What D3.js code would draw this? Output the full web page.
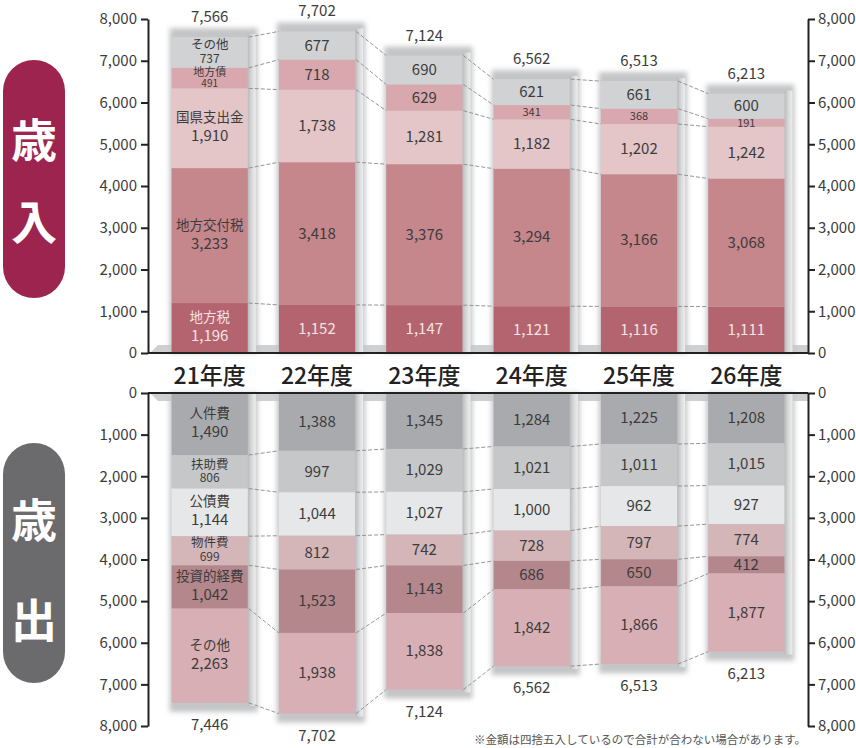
<!DOCTYPE html>
<html>
<head>
<meta charset="utf-8">
<script src="https://cdn.jsdelivr.net/npm/d3@7"></script>
<style>
  body { margin: 0; background: #fff; }
  svg { display: block; font-family: "Noto Sans CJK JP", "Noto Sans", sans-serif; }
</style>
</head>
<body>
<div id="chart"></div>
<script>
// ---- data ----
var years = ["21年度", "22年度", "23年度", "24年度", "25年度", "26年度"];

var revNames = ["地方税", "地方交付税", "国県支出金", "地方債", "その他"];
var revColors = ["#b3646f", "#c5868c", "#e4c6c9", "#d9a8ae", "#d1d2d4"];
var revChihouzei  = [1196, 1152, 1147, 1121, 1116, 1111];
var revKoufuzei   = [3233, 3418, 3376, 3294, 3166, 3068];
var revShishutsu  = [1910, 1738, 1281, 1182, 1202, 1242];
var revChihousai  = [491, 718, 629, 341, 368, 191];
var revSonota     = [737, 677, 690, 621, 661, 600];
var revTotals     = [7566, 7702, 7124, 6562, 6513, 6213];

var expNames = ["人件費", "扶助費", "公債費", "物件費", "投資的経費", "その他"];
var expColors = ["#a9aaad", "#c6c7c9", "#e6e7e8", "#d4b6b9", "#b4878c", "#d8afb4"];
var expJinken   = [1490, 1388, 1345, 1284, 1225, 1208];
var expFujo     = [806, 997, 1029, 1021, 1011, 1015];
var expKousai   = [1144, 1044, 1027, 1000, 962, 927];
var expBukken   = [699, 812, 742, 728, 797, 774];
var expToushi   = [1042, 1523, 1143, 686, 650, 412];
var expSonota   = [2263, 1938, 1838, 1842, 1866, 1877];
var expTotals   = [7446, 7702, 7124, 6562, 6513, 6213];

var axisTicks = [0, 1000, 2000, 3000, 4000, 5000, 6000, 7000, 8000];
var note = "※金額は四捨五入しているので合計が合わない場合があります。";

var revSeries = [revChihouzei, revKoufuzei, revShishutsu, revChihousai, revSonota];
var expSeries = [expJinken, expFujo, expKousai, expBukken, expToushi, expSonota];

// ---- layout ----
var width = 856, height = 748;
var axL = 148, axR = 808;

var svg = d3.select("#chart").append("svg")
    .attr("width", width)
    .attr("height", height);

var defs = svg.append("defs");
defs.append("filter").attr("id", "blur")
    .attr("x", "-30%").attr("y", "-30%").attr("width", "160%").attr("height", "160%")
  .append("feGaussianBlur").attr("stdDeviation", 2.6);

var side = defs.append("linearGradient").attr("id", "side")
    .attr("x1", "0").attr("x2", "1").attr("y1", "0").attr("y2", "0");
side.append("stop").attr("offset", "0").attr("stop-color", "#b9babc");
side.append("stop").attr("offset", "0.5").attr("stop-color", "#d8d9da");
side.append("stop").attr("offset", "1").attr("stop-color", "#eeeeee");

var x = d3.scaleBand()
    .domain(years)
    .range([156, 800])
    .paddingInner(0.29)
    .paddingOuter(0.145);

var yTop = d3.scaleLinear().domain([0, 8000]).range([353, 19]);
var yBot = d3.scaleLinear().domain([0, 8000]).range([393, 726]);

function stackOf(series) {
  return years.map(function(yr, i) {
    var acc = 0;
    return series.map(function(s, k) {
      var seg = {year: yr, i: i, k: k, v: s[i], y0: acc, y1: acc + s[i]};
      acc += s[i];
      return seg;
    });
  });
}

var revStack = stackOf(revSeries);
var expStack = stackOf(expSeries);

function fmt(v) { return d3.format(",")(v); }

// floor strips (3D base)
svg.append("polygon")
    .attr("points", [[axL + 2, 353], [axL + 10, 345], [axR, 345], [axR, 353]].join(" "))
    .attr("fill", "#cfd0d1");
svg.append("polygon")
    .attr("points", [[axL + 2, 393], [axL + 10, 401], [axR, 401], [axR, 393]].join(" "))
    .attr("fill", "#cfd0d1");

function drawPanel(stack, colors, y, totals, names, isTop) {
  var g = svg.append("g");
  var bw = x.bandwidth();

  // soft shadow behind each bar
  g.selectAll("rect.shadow")
    .data(years)
    .enter().append("rect")
      .attr("x", function(d) { return x(d) - 2; })
      .attr("width", bw + 12)
      .attr("y", function(d, i) { return isTop ? y(totals[i]) - 9 : y(0); })
      .attr("height", function(d, i) { return Math.abs(y(totals[i]) - y(0)) + 9; })
      .attr("fill", "#c4c5c7")
      .attr("filter", "url(#blur)");

  // side face
  g.selectAll("rect.side")
    .data(years)
    .enter().append("rect")
      .attr("x", function(d) { return x(d) + bw; })
      .attr("width", 8)
      .attr("y", function(d, i) { return isTop ? y(totals[i]) - 3 : y(0); })
      .attr("height", function(d, i) { return Math.abs(y(totals[i]) - y(0)) + 3; })
      .attr("fill", "url(#side)");

  // segments
  stack.forEach(function(segs) {
    g.selectAll(null)
      .data(segs)
      .enter().append("rect")
        .attr("x", function(d) { return x(d.year); })
        .attr("width", bw)
        .attr("y", function(d) { return Math.min(y(d.y0), y(d.y1)); })
        .attr("height", function(d) { return Math.abs(y(d.y1) - y(d.y0)); })
        .attr("fill", function(d) { return colors[d.k]; });
  });

  // dashed connectors
  for (var i = 0; i < years.length - 1; i++) {
    stack[i].forEach(function(seg, k) {
      var next = stack[i + 1][k];
      g.append("line")
        .attr("x1", x(years[i]) + bw + 1)
        .attr("x2", x(years[i + 1]))
        .attr("y1", y(seg.y1))
        .attr("y2", y(next.y1))
        .attr("stroke", "#8a8a8a")
        .attr("stroke-width", 0.9)
        .attr("stroke-dasharray", "4,2");
    });
  }

  // value labels
  stack.forEach(function(segs) {
    segs.forEach(function(d) {
      var cx = x(d.year) + bw / 2;
      var cy = (y(d.y0) + y(d.y1)) / 2;
      var small = isTop && d.v < 500;
      var col = (isTop && d.k === 0) ? "#f3e3e5" : "#3c3c3c";
      if (d.i === 0) {
        // first bar shows name + value
        var fs, fv, gap;
        if (small) { fs = 11; fv = 10; gap = 10; }
        else if (d.v < 900) { fs = 12.5; fv = 12; gap = 12.5; }
        else { fs = 13.5; fv = 15; gap = 18; }
        g.append("text")
          .attr("x", cx).attr("y", cy - gap / 2 + 3)
          .attr("text-anchor", "middle")
          .style("font-size", fs + "px")
          .attr("fill", col)
          .text(names[d.k]);
        g.append("text")
          .attr("x", cx).attr("y", cy + gap / 2 + 4)
          .attr("text-anchor", "middle")
          .style("font-size", fv + "px")
          .attr("fill", col)
          .text(fmt(d.v));
      } else {
        g.append("text")
          .attr("x", cx).attr("y", cy + (small ? 4 : 5))
          .attr("text-anchor", "middle")
          .style("font-size", (small ? 11 : 15) + "px")
          .attr("fill", col)
          .text(fmt(d.v));
      }
    });
  });

  // totals
  g.selectAll("text.total")
    .data(years)
    .enter().append("text")
      .attr("x", function(d) { return x(d) + bw / 2; })
      .attr("y", function(d, i) { return isTop ? y(totals[i]) - 15 : y(totals[i]) + 27; })
      .attr("text-anchor", "middle")
      .style("font-size", "15px")
      .attr("fill", "#3c3c3c")
      .text(function(d, i) { return fmt(totals[i]); });
}

drawPanel(revStack, revColors, yTop, revTotals, revNames, true);
drawPanel(expStack, expColors, yBot, expTotals, expNames, false);

// axes
function styleAxis(sel) {
  sel.select(".domain").attr("stroke", "#222").attr("stroke-width", 2);
  sel.selectAll(".tick line").attr("stroke", "#222").attr("stroke-width", 2);
  sel.selectAll(".tick text")
    .style("font-size", "15px")
    .style("font-family", "Noto Sans CJK JP, sans-serif")
    .attr("fill", "#3c3c3c");
}

[yTop, yBot].forEach(function(ys) {
  svg.append("g")
    .attr("transform", "translate(" + axL + ",0)")
    .call(d3.axisLeft(ys).tickValues(axisTicks).tickFormat(d3.format(",")).tickSize(7).tickSizeOuter(0).tickPadding(4))
    .call(styleAxis);
  svg.append("g")
    .attr("transform", "translate(" + axR + ",0)")
    .call(d3.axisRight(ys).tickValues(axisTicks).tickFormat(d3.format(",")).tickSize(7).tickSizeOuter(0).tickPadding(3))
    .call(styleAxis);
});

// base lines
svg.append("line").attr("x1", axL).attr("x2", axR).attr("y1", 353).attr("y2", 353)
    .attr("stroke", "#222").attr("stroke-width", 2);
svg.append("line").attr("x1", axL).attr("x2", axR).attr("y1", 393).attr("y2", 393)
    .attr("stroke", "#222").attr("stroke-width", 2);

// year labels
svg.selectAll("text.year")
  .data(years)
  .enter().append("text")
    .attr("x", function(d) { return x(d) + x.bandwidth() / 2; })
    .attr("y", 384)
    .attr("text-anchor", "middle")
    .style("font-size", "23px")
    .style("font-weight", "500")
    .attr("fill", "#222")
    .text(function(d) { return d; });

// side pills
function pill(y0, y1, color, chars) {
  svg.append("rect")
    .attr("x", 3).attr("y", y0)
    .attr("width", 62).attr("height", y1 - y0)
    .attr("rx", 31).attr("ry", 31)
    .attr("fill", color);
  chars.forEach(function(c) {
    svg.append("text")
      .attr("x", 34).attr("y", c.y)
      .attr("text-anchor", "middle")
      .style("font-size", "46px")
      .style("font-weight", "bold")
      .attr("fill", "#fff")
      .text(c.t);
  });
}
pill(60, 298, "#9e2450", [{t: "歳", y: 157}, {t: "入", y: 239}]);
pill(443, 683, "#6b6b6d", [{t: "歳", y: 537}, {t: "出", y: 637}]);

// footnote
svg.append("text")
  .attr("x", 806).attr("y", 744)
  .attr("text-anchor", "end")
  .style("font-size", "11.5px")
  .attr("fill", "#555")
  .text(note);
</script>
</body>
</html>
